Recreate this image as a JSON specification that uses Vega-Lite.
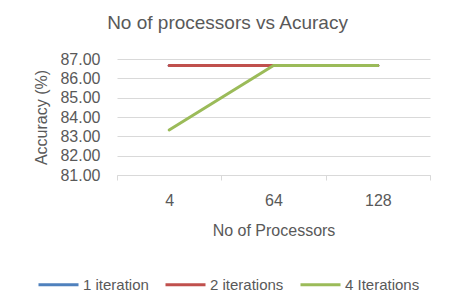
{
  "$schema": "https://vega.github.io/schema/vega-lite/v6.json",
  "width": 313,
  "height": 116,
  "autosize": {"type": "none"},
  "padding": {"left": 117, "top": 59, "right": 25, "bottom": 131},
  "background": "white",
  "title": {"text": "No of processors vs Acuracy", "fontSize": 19, "fontWeight": "normal", "color": "#595959", "font": "Liberation Sans", "offset": 18, "dx": -46},
  "config": {
    "font": "Liberation Sans",
    "view": {"stroke": null}
  },
  "data": {
    "values": [
      {"processors": "4", "series": "1 iteration", "accuracy": 86.67},
      {"processors": "64", "series": "1 iteration", "accuracy": 86.67},
      {"processors": "128", "series": "1 iteration", "accuracy": 86.67},
      {"processors": "4", "series": "2 iterations", "accuracy": 86.67},
      {"processors": "64", "series": "2 iterations", "accuracy": 86.67},
      {"processors": "128", "series": "2 iterations", "accuracy": 86.67},
      {"processors": "4", "series": "4 Iterations", "accuracy": 83.33},
      {"processors": "64", "series": "4 Iterations", "accuracy": 86.67},
      {"processors": "128", "series": "4 Iterations", "accuracy": 86.67}
    ]
  },
  "mark": {"type": "line", "strokeWidth": 3, "strokeCap": "round"},
  "encoding": {
    "x": {
      "field": "processors", "type": "ordinal", "sort": ["4", "64", "128"],
      "scale": {"paddingInner": 0, "paddingOuter": 0},
      "axis": {"title": "No of Processors", "titleFontSize": 16, "titleFontWeight": "normal", "titleColor": "#595959", "titlePadding": 14,
        "labelAngle": 0, "labelFontSize": 16, "labelColor": "#595959", "labelPadding": 12,
        "tickBand": "extent", "tickColor": "#d9d9d9", "tickSize": 5, "domainColor": "#d9d9d9", "grid": false}
    },
    "y": {
      "field": "accuracy", "type": "quantitative",
      "scale": {"domain": [81, 87], "nice": false, "zero": false},
      "axis": {"title": "Accuracy (%)", "titleFontSize": 16, "titleFontWeight": "normal", "titleColor": "#595959", "titlePadding": 10,
        "values": [81, 82, 83, 84, 85, 86, 87], "format": ".2f", "labelFontSize": 16, "labelColor": "#595959", "labelPadding": 17,
        "ticks": false, "domain": false, "gridColor": "#d9d9d9"}
    },
    "color": {
      "field": "series", "type": "nominal",
      "scale": {"domain": ["1 iteration", "2 iterations", "4 Iterations"], "range": ["#4F81BD", "#C0504D", "#9BBB59"]},
      "legend": {"title": null, "orient": "none", "direction": "horizontal", "legendX": -80, "legendY": 204,
        "symbolType": "stroke", "symbolSize": 1600, "symbolStrokeWidth": 3, "labelFontSize": 15, "labelColor": "#595959",
        "columnPadding": 10, "labelOffset": 3}
    }
  }
}
